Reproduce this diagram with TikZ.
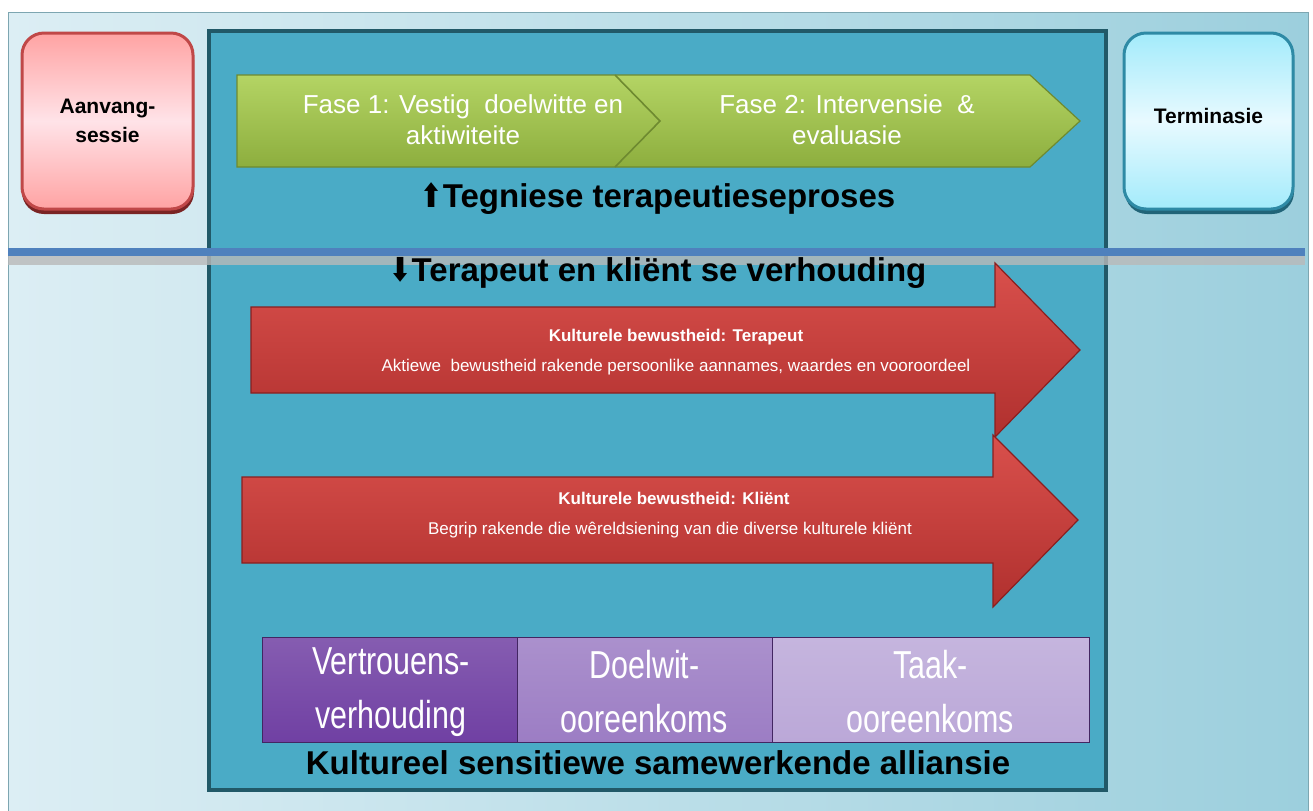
\documentclass[tikz,border=0pt]{standalone}
\usepackage{fontspec}
\setmainfont{Liberation Sans}
\newfontfamily\arrowfont{DejaVu Sans}
\definecolor{outerL}{HTML}{DCEEF4}
\definecolor{outerR}{HTML}{9CCFDD}
\definecolor{innerfill}{HTML}{4AABC6}
\definecolor{innerline}{HTML}{215968}
\definecolor{greenT}{HTML}{B4D464}
\definecolor{greenB}{HTML}{8DAE3E}
\definecolor{greenline}{HTML}{6E8A30}
\definecolor{redT}{HTML}{D9504C}
\definecolor{redB}{HTML}{B0302E}
\definecolor{redline}{HTML}{8A1F1F}
\definecolor{pinkE}{HTML}{FFA3A3}
\definecolor{pinkM}{HTML}{FFE3E8}
\definecolor{pinkline}{HTML}{C04848}
\definecolor{pinkshadow}{HTML}{7A2424}
\definecolor{cyanE}{HTML}{A3EBFB}
\definecolor{cyanM}{HTML}{E8FAFF}
\definecolor{cyanline}{HTML}{2E8AA5}
\definecolor{cyanshadow}{HTML}{216478}
\definecolor{sepblue}{HTML}{4F81BD}
\definecolor{purA}{HTML}{7040A3}
\definecolor{purB}{HTML}{9C7DC4}
\definecolor{purC}{HTML}{BBA8D8}
\tikzset{
  sidebox/.style={rounded corners=11pt, line width=1.5pt},
  title/.style={font=\bfseries\fontsize{16.5}{20}\selectfont, text=black},
  phasetext/.style={font=\fontsize{13}{15.5}\selectfont, text=white, align=center},
  arrowhead/.style={font=\bfseries\fontsize{8.5}{10}\selectfont, text=white},
  arrowbody/.style={font=\fontsize{8.5}{10}\selectfont, text=white},
  purtext/.style={font=\fontsize{19.5}{27}\selectfont, text=white, align=center},
  purbox/.style={draw=purA!60!black, line width=0.3pt}
}
\begin{document}
\begin{tikzpicture}[x=0.5pt,y=-0.5pt]
\useasboundingbox (0,0) rectangle (1313,810);
\fill[white] (0,0) rectangle (1313,810);
% outer frame
\shade[left color=outerL, right color=outerR, draw=outerR!80!black, line width=0.5pt] (8,12) rectangle (1308,812);
% inner panel
\fill[innerfill] (209,31) rectangle (1106,790);
\draw[innerline, line width=2pt] (209,31) rectangle (1106,790);
% side boxes
\fill[pinkshadow, rounded corners=11pt] (22,38) rectangle (194,214);
\shade[sidebox, draw=pinkline, top color=pinkE, bottom color=pinkE, middle color=pinkM] (22,33) rectangle (193,209);
\node[font=\bfseries\fontsize{10.5}{14.5}\selectfont, align=center] (aanvang) at (107.5,121) {Aanvang-\\sessie};
\fill[cyanshadow, rounded corners=11pt] (1125,38) rectangle (1294,214);
\shade[sidebox, draw=cyanline, top color=cyanE, bottom color=cyanE, middle color=cyanM] (1124,33) rectangle (1293,209);
\node[font=\bfseries\fontsize{10.5}{13}\selectfont] (term) at (1208.5,116) {Terminasie};
% green chevrons
\shade[top color=greenT, bottom color=greenB, draw=greenline, line width=0.6pt]
  (237,75) -- (1030,75) -- (1080,121) -- (1030,167) -- (237,167) -- cycle;
\draw[greenline, line width=0.8pt] (615,75) -- (660,121) -- (615,167);
\node[phasetext] (fase1) at (463,120) {Fase 1: Vestig\ \ doelwitte en\\aktiwiteite};
\node[phasetext] (fase2) at (847,120) {Fase 2: Intervensie\ \ \&\\evaluasie};
\node[title] (tegn) at (658,199) {{\arrowfont\scalebox{0.8}[1]{⬆}}Tegniese terapeutieseproses};
% separator
\fill[gray!55, opacity=0.8] (8,256) rectangle (1305,265);
\fill[sepblue] (8,248) rectangle (1305,256);
\node[title] (verh) at (658,273) {{\arrowfont\scalebox{0.8}[1]{⬇}}Terapeut en kli\"ent se verhouding};
% red arrows
\shade[top color=redT, bottom color=redB, draw=redline, line width=0.6pt]
  (251,307) -- (995,307) -- (995,263) -- (1080,350) -- (995,437) -- (995,393) -- (251,393) -- cycle;
\node[arrowhead] (kt) at (676,337) {Kulturele bewustheid: Terapeut};
\node[arrowbody] (ktb) at (676,367) {Aktiewe\ \ bewustheid rakende persoonlike aannames, waardes en vooroordeel};
\shade[top color=redT, bottom color=redB, draw=redline, line width=0.6pt]
  (242,477) -- (993,477) -- (993,435) -- (1078,520) -- (993,607) -- (993,563) -- (242,563) -- cycle;
\node[arrowhead] (kk) at (674,498) {Kulturele bewustheid: Kli\"ent};
\node[arrowbody] (kkb) at (670,530) {Begrip rakende die w\^ereldsiening van die diverse kulturele kli\"ent};
% purple boxes
\shade[purbox, top color=purA!85!white, bottom color=purA] (262,637) rectangle (517,742);
\shade[purbox, top color=purB!85!white, bottom color=purB] (517,637) rectangle (772,742);
\shade[purbox, top color=purC!85!white, bottom color=purC] (772,637) rectangle (1089,742);
\node[purtext] (p1) at (391,692) {\scalebox{0.78}[1]{Vertrouens-}\\\scalebox{0.78}[1]{verhouding}};
\node[purtext] (p2) at (644.5,692) {\scalebox{0.78}[1]{Doelwit-}\\\scalebox{0.78}[1]{ooreenkoms}};
\node[purtext] (p3) at (930.5,692) {\scalebox{0.78}[1]{Taak-}\\\scalebox{0.78}[1]{ooreenkoms}};
\node[title] (kult) at (658,763) {Kultureel sensitiewe samewerkende alliansie};
\end{tikzpicture}
\end{document}
